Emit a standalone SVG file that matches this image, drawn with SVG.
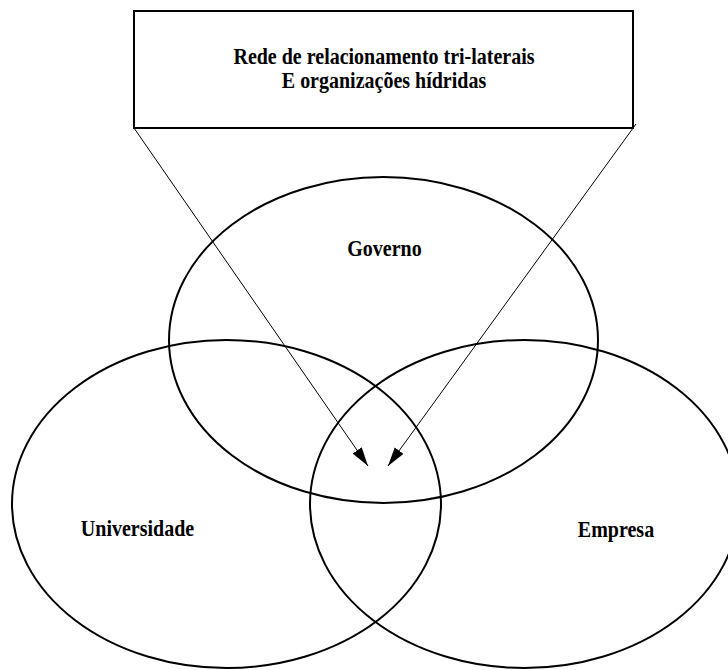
<svg xmlns="http://www.w3.org/2000/svg" width="728" height="670" viewBox="0 0 728 670">
  <style>
    .shape { fill: none; stroke: #000; stroke-width: 2; }
    .link { fill: none; stroke: #000; stroke-width: 1; }
    .label { font-family: "Liberation Serif", "Times New Roman", serif; font-weight: bold; font-size: 20px; fill: #000; text-anchor: middle; }
  </style>
  <defs>
    <marker id="arrow" markerWidth="20" markerHeight="12" refX="19" refY="5.5" orient="auto" markerUnits="userSpaceOnUse">
      <path d="M0,0 L19,5.5 L0,11 Z" fill="#000"/>
    </marker>
  </defs>
  <rect width="728" height="670" fill="#fff"/>

  <g id="header">
    <rect class="shape" x="134" y="11" width="499" height="117"/>
    <text class="label" transform="translate(384,64) scale(1,1.15)">Rede de relacionamento tri-laterais</text>
    <text class="label" transform="translate(384,88) scale(1,1.15)">E organizações hídridas</text>
  </g>

  <g id="governo">
    <ellipse class="shape" cx="383.5" cy="340" rx="214.5" ry="163"/>
    <text class="label" transform="translate(384.5,256) scale(1,1.15)">Governo</text>
  </g>

  <g id="universidade">
    <ellipse class="shape" cx="226.5" cy="504" rx="214.5" ry="164"/>
    <text class="label" transform="translate(137.5,536) scale(1,1.15)">Universidade</text>
  </g>

  <g id="empresa">
    <ellipse class="shape" cx="524.5" cy="504" rx="214.5" ry="164"/>
    <text class="label" transform="translate(616,537) scale(1,1.15)">Empresa</text>
  </g>

  <g id="connectors">
    <line class="link" x1="134" y1="128" x2="368" y2="466" marker-end="url(#arrow)"/>
    <line class="link" x1="636" y1="124" x2="388" y2="466" marker-end="url(#arrow)"/>
  </g>
</svg>
